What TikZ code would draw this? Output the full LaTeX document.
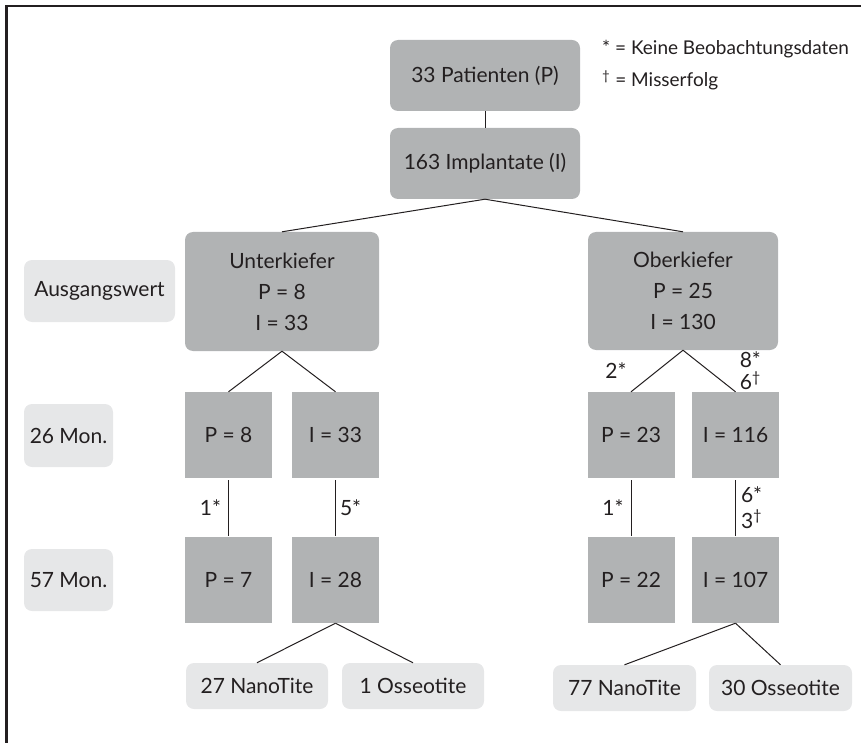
\documentclass[tikz,border=0pt]{standalone}
\usepackage{fontspec}
\setmainfont{Lato}
\usetikzlibrary{positioning}

\definecolor{boxgray}{HTML}{B1B3B4}
\definecolor{pale}{HTML}{E6E7E8}
\definecolor{ink}{HTML}{231F20}

\tikzset{
  dark/.style={fill=boxgray,draw=none,rounded corners=8pt,text=ink,inner sep=0pt,align=center,font=\fontsize{21}{31}\selectfont},
  tile/.style={fill=boxgray,draw=none,text=ink,inner sep=0pt,minimum width=87pt,minimum height=86pt,font=\fontsize{21}{24}\selectfont},
  period/.style={fill=pale,draw=none,rounded corners=8pt,text=ink,inner sep=0pt,font=\fontsize{21}{24}\selectfont},
  link/.style={draw=ink,line width=1pt},
  note/.style={text=ink,inner sep=0pt,align=left,font=\fontsize{21}{22}\selectfont},
  keytext/.style={text=ink,inner sep=0pt,anchor=west,font=\fontsize{19}{22}\selectfont}
}

\begin{document}
\begin{tikzpicture}[x=1pt,y=-1pt]
\useasboundingbox (0,0) rectangle (861,743);
\draw[ink,line width=2.5pt] (6.5,743) |- (861,6);

% legend
\node[keytext] (key1) at (602,49) {* = Keine Beobachtungsdaten};
\node[keytext] (key2) at (602,80) {\textsuperscript{†} = Misserfolg};

% top
\node[dark,minimum width=190pt,minimum height=71pt] (pat) at (485,75.5) {33 Patienten (P)};
\node[dark,minimum width=190pt,minimum height=71pt] (imp) at (485,163.5) {163 Implantate (I)};
\node[dark,minimum width=194pt,minimum height=119pt] (uk) at (282,291.5) {Unterkiefer\\P = 8\\I = 33};
\node[dark,minimum width=190pt,minimum height=118pt] (ok) at (683,291) {Oberkiefer\\P = 25\\I = 130};

% time points
\node[period,minimum width=151pt,minimum height=62pt] (base) at (99.5,291) {Ausgangswert};
\node[period,minimum width=89pt,minimum height=63pt] (m26) at (68.5,435.5) {26 Mon.};
\node[period,minimum width=89pt,minimum height=62pt] (m57) at (68.5,580) {57 Mon.};

% 26 months
\node[tile] (uk26p) at (228.5,435) {P = 8};
\node[tile] (uk26i) at (335.5,435) {I = 33};
\node[tile] (ok26p) at (631,435) {P = 23};
\node[tile] (ok26i) at (735.5,435) {I = 116};

% 57 months
\node[tile] (uk57p) at (228.5,580) {P = 7};
\node[tile] (uk57i) at (335.5,580) {I = 28};
\node[tile] (ok57p) at (631,580) {P = 22};
\node[tile] (ok57i) at (735.5,580) {I = 107};

% implant types
\node[period,minimum width=142pt,minimum height=46pt] (nano1) at (257,686) {27 NanoTite};
\node[period,minimum width=142pt,minimum height=46pt] (oss1) at (413,686) {1 Osseotite};
\node[period,minimum width=143pt,minimum height=46pt] (nano2) at (624.5,688) {77 NanoTite};
\node[period,minimum width=143pt,minimum height=46pt] (oss2) at (780.5,688) {30 Osseotite};

% connectors
\draw[link] (pat) -- (imp);
\draw[link] (imp.south) -- (uk.north);
\draw[link] (imp.south) -- (ok.north);
\draw[link] (uk.south) -- (uk26p.north);
\draw[link] (uk.south) -- (uk26i.north);
\draw[link] (ok.south) -- node[note,left=30pt] {2*} (ok26p.north);
\draw[link] (ok.south) -- node[note,right=30pt] {8*\\6\textsuperscript{†}} (ok26i.north);
\draw[link,shorten <=2pt,shorten >=1pt] (uk26p) -- node[note,left=7pt] {1*} (uk57p);
\draw[link,shorten <=2pt,shorten >=1pt] (uk26i) -- node[note,right=4pt] {5*} (uk57i);
\draw[link,shorten <=2pt,shorten >=1pt] (ok26p) -- node[note,left=7pt] {1*} (ok57p);
\draw[link,shorten <=2pt,shorten >=1pt] (ok26i) -- node[note,right=5pt,font=\fontsize{21}{26}\selectfont] {6*\\3\textsuperscript{†}} (ok57i);
\draw[link] (uk57i.south) -- (nano1.north);
\draw[link] (uk57i.south) -- (oss1.north);
\draw[link] (ok57i.south) -- (nano2.north);
\draw[link] (ok57i.south) -- (oss2.north);
\end{tikzpicture}
\end{document}
